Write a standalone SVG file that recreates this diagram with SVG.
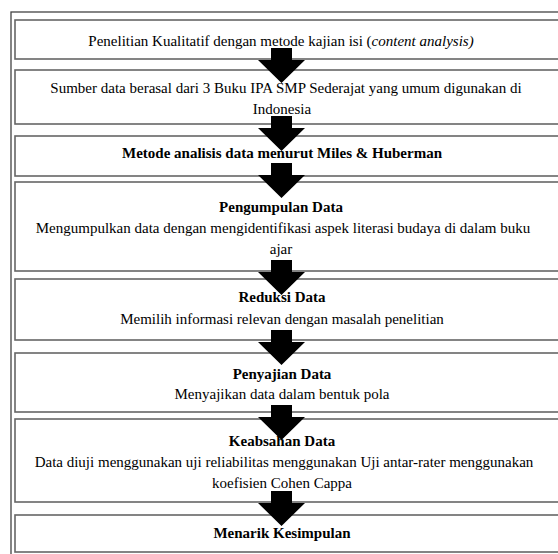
<svg xmlns="http://www.w3.org/2000/svg" width="558" height="554" viewBox="0 0 558 554">
<defs>
<style>
.frame{fill:#fff;stroke:#444;stroke-width:1.3}
.box{fill:#fff;stroke:#666;stroke-width:1.6}
.t{font-family:'Liberation Serif','Times New Roman','DejaVu Serif',serif;font-size:15px;fill:#000;text-anchor:middle}
.b{font-weight:bold}
.arrow{fill:#000}
</style>
<path id="arr" d="M-10.5,0 H10.5 V12 H23.5 L0,35 L-23.5,12 H-10.5 Z"/>
</defs>
<rect width="558" height="554" fill="#fff"/>
<rect class="frame" x="11" y="12" width="560" height="560"/>
<g font-family="'Liberation Serif', 'Times New Roman', serif">
<g id="n1"><rect class="box" x="15" y="20" width="560" height="39"/>
<text class="t" x="281" y="46">Penelitian Kualitatif dengan metode kajian isi (<tspan font-style="italic">content analysis)</tspan></text></g>
<g id="n2"><rect class="box" x="15" y="70" width="560" height="54"/>
<text class="t" x="286" y="93">Sumber data berasal dari 3 Buku IPA SMP Sederajat yang umum digunakan di</text>
<text class="t" x="282" y="114">Indonesia</text></g>
<g id="n3"><rect class="box" x="15" y="136" width="560" height="40"/>
<text class="t b" x="282" y="158">Metode analisis data menurut Miles &amp; Huberman</text></g>
<g id="n4"><rect class="box" x="15" y="182" width="560" height="89"/>
<text class="t b" x="281" y="212">Pengumpulan Data</text>
<text class="t" x="283" y="233">Mengumpulkan data dengan mengidentifikasi aspek literasi budaya di dalam buku</text>
<text class="t" x="281" y="254">ajar</text></g>
<g id="n5"><rect class="box" x="15" y="279" width="560" height="61"/>
<text class="t b" x="282" y="302">Reduksi Data</text>
<text class="t" x="282" y="324">Memilih informasi relevan dengan masalah penelitian</text></g>
<g id="n6"><rect class="box" x="15" y="353" width="560" height="59"/>
<text class="t b" x="282" y="379">Penyajian Data</text>
<text class="t" x="282" y="399">Menyajikan data dalam bentuk pola</text></g>
<g id="n7"><rect class="box" x="15" y="419" width="560" height="83"/>
<text class="t b" x="282" y="446">Keabsahan Data</text>
<text class="t" x="284" y="467">Data diuji menggunakan uji reliabilitas menggunakan Uji antar-rater menggunakan</text>
<text class="t" x="282" y="488">koefisien Cohen Cappa</text></g>
<g id="n8"><rect class="box" x="15" y="515" width="560" height="37"/>
<text class="t b" x="282" y="538">Menarik Kesimpulan</text></g>
</g>
<g id="connectors" class="arrow">
<use href="#arr" x="281.5" y="48"/>
<use href="#arr" x="281.5" y="116"/>
<use href="#arr" x="281.5" y="163"/>
<use href="#arr" x="281.5" y="260"/>
<use href="#arr" x="281.5" y="330"/>
<use href="#arr" x="281.5" y="405"/>
<use href="#arr" x="281.5" y="491"/>
</g>
</svg>
